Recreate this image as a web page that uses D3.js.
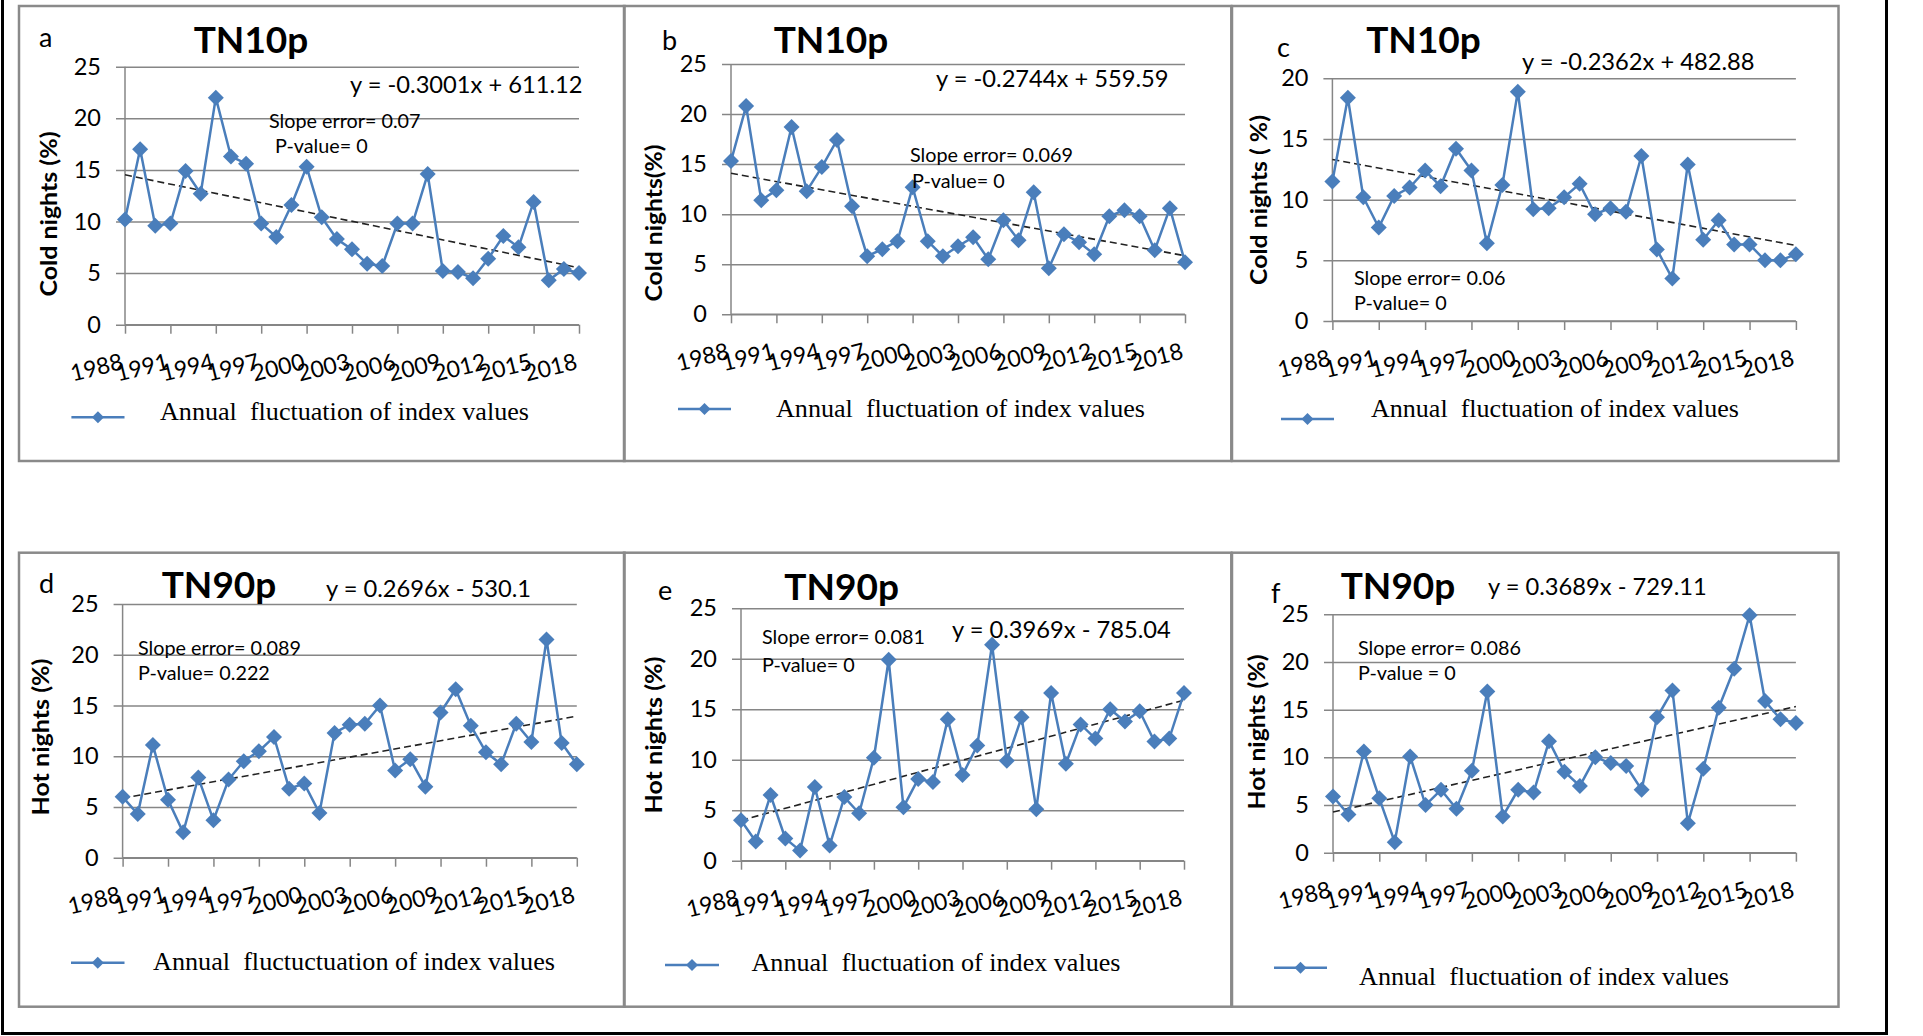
<!DOCTYPE html>
<html lang="en">
<head>
    <meta charset="UTF-8">
    <title>TN10p / TN90p</title>
    <script src="https://d3js.org/d3.v7.min.js"></script>
    <style>
        body { margin: 0; background: #fff; }
        svg { display: block; }
        .tick text { font-family: Lato, "Open Sans", sans-serif; fill: #000; }
        .lbl { font-family: Lato, "Open Sans", sans-serif; fill: #000; }
        .legend-text { font-family: "Liberation Serif", "Times New Roman", serif; fill: #000; }
    </style>
</head>
<body>
<svg id="chart"></svg>
<script>
// ---- data ----
const years = [1988, 1989, 1990, 1991, 1992, 1993, 1994, 1995, 1996, 1997, 1998, 1999, 2000, 2001, 2002, 2003,
               2004, 2005, 2006, 2007, 2008, 2009, 2010, 2011, 2012, 2013, 2014, 2015, 2016, 2017, 2018];
const tickYears = [1988, 1991, 1994, 1997, 2000, 2003, 2006, 2009, 2012, 2015, 2018];

const coldNightsA = [10.2, 17.0, 9.6, 9.8, 14.9, 12.7, 22.0, 16.3, 15.6, 9.8, 8.5, 11.6, 15.3, 10.4, 8.3, 7.3,
                     5.9, 5.7, 9.8, 9.8, 14.6, 5.2, 5.1, 4.5, 6.4, 8.6, 7.5, 11.9, 4.3, 5.4, 5.0];
const coldNightsB = [15.3, 20.8, 11.4, 12.4, 18.7, 12.3, 14.7, 17.4, 10.8, 5.8, 6.5, 7.3, 12.7, 7.3, 5.8, 6.8,
                     7.7, 5.5, 9.4, 7.4, 12.2, 4.6, 8.0, 7.2, 6.0, 9.8, 10.4, 9.8, 6.4, 10.6, 5.2];
const coldNightsC = [11.5, 18.4, 10.2, 7.7, 10.3, 11.0, 12.4, 11.1, 14.2, 12.4, 6.4, 11.2, 18.9, 9.2, 9.3, 10.2,
                     11.3, 8.8, 9.3, 9.0, 13.6, 5.9, 3.5, 12.9, 6.7, 8.3, 6.3, 6.3, 5.0, 5.0, 5.5];
const hotNightsD = [6.0, 4.3, 11.1, 5.7, 2.5, 7.9, 3.7, 7.7, 9.5, 10.5, 11.9, 6.8, 7.3, 4.4, 12.3, 13.1,
                    13.2, 15.0, 8.6, 9.7, 7.0, 14.3, 16.6, 13.0, 10.4, 9.2, 13.2, 11.4, 21.5, 11.3, 9.2];
const hotNightsE = [4.0, 1.9, 6.5, 2.2, 1.0, 7.3, 1.5, 6.3, 4.7, 10.2, 19.9, 5.3, 8.1, 7.8, 14.0, 8.5,
                    11.4, 21.4, 9.9, 14.2, 5.1, 16.6, 9.6, 13.5, 12.1, 15.0, 13.8, 14.8, 11.8, 12.1, 16.6];
const hotNightsF = [5.9, 4.0, 10.6, 5.7, 1.1, 10.1, 5.0, 6.6, 4.6, 8.6, 16.9, 3.8, 6.6, 6.3, 11.7, 8.5,
                    7.0, 10.0, 9.4, 9.1, 6.6, 14.2, 17.0, 3.1, 8.8, 15.2, 19.3, 24.9, 15.9, 14.0, 13.6];

// linear trend y = slope * year + intercept (from the equations printed on each panel)
const trendSlopes = [-0.3001, -0.2744, -0.2362, 0.2696, 0.3969, 0.3689];
const trendIntercepts = [611.12, 559.59, 482.88, -530.1, -785.04, -729.11];

const panelLetters = ["a", "b", "c", "d", "e", "f"];
const panelTitles = ["TN10p", "TN10p", "TN10p", "TN90p", "TN90p", "TN90p"];
const yLabels = ["Cold nights (%)", "Cold nights(%)", "Cold nights ( %)", "Hot nights (%)", "Hot nights (%)", "Hot nights (%)"];
const equations = ["y = -0.3001x + 611.12", "y = -0.2744x + 559.59", "y = -0.2362x + 482.88",
                   "y = 0.2696x - 530.1", "y = 0.3969x - 785.04", "y = 0.3689x - 729.11"];
const slopeErrors = ["Slope error= 0.07", "Slope error= 0.069", "Slope error= 0.06",
                     "Slope error= 0.089", "Slope error= 0.081", "Slope error= 0.086"];
const pValues = ["P-value= 0", "P-value= 0", "P-value= 0", "P-value= 0.222", "P-value= 0", "P-value = 0"];
const legendTexts = ["Annual  fluctuation of index values", "Annual  fluctuation of index values",
                     "Annual  fluctuation of index values", "Annual  fluctuctuation of index values",
                     "Annual  fluctuation of index values", "Annual  fluctuation of index values"];
const yMaxes = [25, 25, 20, 25, 25, 25];
const series = [coldNightsA, coldNightsB, coldNightsC, hotNightsD, hotNightsE, hotNightsF];

// ---- layout of each panel (pixels) ----
const layout = [
    { box: [19, 6, 624.5, 461], x: [125, 579], y: [324.7, 66.7], letter: [39, 47], title: [251, 52.7],
      ylab: [49, 214, 165], eq: [350, 93], se: [269, 128], pv: [275, 153],
      leg: [71.4, 124.5, 417.3], legText: [160, 420, 369] },
    { box: [624, 6, 1231.3, 461], x: [731, 1185], y: [314.3, 64], letter: [662, 50], title: [831, 52.7],
      ylab: [654, 223, 157], eq: [936, 86.7], se: [910, 161.7], pv: [912, 188],
      leg: [678, 731, 409], legText: [776, 417, 369] },
    { box: [1232, 6, 1838.5, 461], x: [1332.4, 1795.9], y: [321, 78.3], letter: [1277, 56.7], title: [1423.5, 52.7],
      ylab: [1259, 200, 170], eq: [1522, 70], se: [1354, 285], pv: [1354, 310],
      leg: [1281, 1334, 419], legText: [1371, 417, 368] },
    { box: [19, 552.7, 624.5, 1006.7], x: [122.6, 576.8], y: [857.7, 604], letter: [39, 593], title: [219, 598.3],
      ylab: [41, 737, 157], eq: [326, 596.7], se: [138, 655], pv: [138, 680],
      leg: [71, 124.5, 962.7], legText: [153, 970, 402] },
    { box: [624, 552.7, 1231.3, 1006.7], x: [741, 1184], y: [860.7, 608.3], letter: [658, 600], title: [841.6, 600],
      ylab: [654, 735, 157], eq: [952, 638], se: [762, 644], pv: [762, 671.7],
      leg: [665, 719, 965], legText: [751.5, 970.7, 369] },
    { box: [1232, 552.7, 1838.5, 1006.7], x: [1333, 1795.9], y: [852.7, 614.3], letter: [1271, 603], title: [1398, 599.3],
      ylab: [1256.6, 732, 155], eq: [1488, 595], se: [1358, 655], pv: [1358, 680],
      leg: [1274, 1327, 967.7], legText: [1359, 985, 370] }
];

const width = 1923, height = 1036;
const blue = "#4a7ebb", grid = "#868686";

const svg = d3.select("#chart").attr("width", width).attr("height", height);
svg.append("rect").attr("width", width).attr("height", height).attr("fill", "#fff");

// outer black frame (top edge lies off the picture)
svg.append("path")
    .attr("d", "M2.5,-5 L2.5,1033.5 L1886.5,1033.5 L1886.5,-5")
    .attr("fill", "none").attr("stroke", "#000").attr("stroke-width", 3);

const diamond = r => `M0,${-r}L${r},0L0,${r}L${-r},0Z`;

series.forEach(function(values, i) {
    const L = layout[i];
    const g = svg.append("g");

    // panel border
    g.append("rect")
        .attr("x", L.box[0]).attr("y", L.box[1])
        .attr("width", L.box[2] - L.box[0]).attr("height", L.box[3] - L.box[1])
        .attr("fill", "none").attr("stroke", "#8a8a8a").attr("stroke-width", 2.5);

    const x = d3.scaleLinear().domain([years[0], years[years.length - 1]]).range(L.x);
    const y = d3.scaleLinear().domain([0, yMaxes[i]]).range(L.y);
    const yTicks = d3.range(0, yMaxes[i] + 1, 5);

    // horizontal gridlines + y axis
    const yAxis = g.append("g")
        .attr("transform", `translate(${L.x[0]},0)`)
        .call(d3.axisLeft(y).tickValues(yTicks).tickSize(9).tickPadding(15));
    yAxis.select(".domain").remove();
    yAxis.selectAll(".tick line")
        .attr("x2", L.x[1] - L.x[0]).attr("x1", -9)
        .attr("stroke", grid).attr("stroke-width", 1.5);
    yAxis.selectAll(".tick text").style("font-size", "23.5px");
    g.append("line")
        .attr("x1", L.x[0]).attr("x2", L.x[0])
        .attr("y1", L.y[0]).attr("y2", y(yMaxes[i]))
        .attr("stroke", grid).attr("stroke-width", 1.5);

    // x axis
    const xAxis = g.append("g")
        .attr("transform", `translate(0,${L.y[0]})`)
        .call(d3.axisBottom(x).tickValues(tickYears).tickFormat(d3.format("d")).tickSize(9));
    xAxis.select(".domain").attr("stroke", grid).attr("stroke-width", 1.5)
        .attr("d", `M${L.x[0]},0H${L.x[1]}`);
    xAxis.selectAll(".tick line").attr("stroke", grid).attr("stroke-width", 1.5);
    xAxis.selectAll(".tick text")
        .style("font-size", "23px")
        .attr("y", 0).attr("dy", 0)
        .attr("text-anchor", "end")
        .attr("transform", "translate(-1,44) rotate(-14)");

    // trend line
    const trend = yr => trendSlopes[i] * yr + trendIntercepts[i];
    g.append("line")
        .attr("x1", x(years[0])).attr("y1", y(trend(years[0])))
        .attr("x2", x(years[years.length - 1])).attr("y2", y(trend(years[years.length - 1])))
        .attr("stroke", "#222").attr("stroke-width", 1.6).attr("stroke-dasharray", "7,4");

    // series line and markers
    const line = d3.line().x((d, j) => x(years[j])).y(d => y(d));
    g.append("path").datum(values)
        .attr("d", line)
        .attr("fill", "none").attr("stroke", blue).attr("stroke-width", 2.5);
    g.selectAll(".marker").data(values).enter().append("path")
        .attr("class", "marker")
        .attr("d", diamond(8))
        .attr("transform", (d, j) => `translate(${x(years[j])},${y(d)})`)
        .attr("fill", blue);

    // texts
    g.append("text").attr("class", "lbl")
        .attr("x", L.letter[0]).attr("y", L.letter[1])
        .style("font-size", "27px").text(panelLetters[i]);
    g.append("text").attr("class", "lbl")
        .attr("x", L.title[0]).attr("y", L.title[1])
        .attr("text-anchor", "middle")
        .style("font-size", "37px").style("font-weight", "bold")
        .text(panelTitles[i]);
    g.append("text").attr("class", "lbl")
        .attr("transform", `translate(${L.ylab[0] + 8},${L.ylab[1]}) rotate(-90)`)
        .attr("text-anchor", "middle")
        .attr("textLength", L.ylab[2]).attr("lengthAdjust", "spacingAndGlyphs")
        .style("font-size", "23px").style("font-weight", "bold")
        .text(yLabels[i]);
    g.append("text").attr("class", "lbl")
        .attr("x", L.eq[0]).attr("y", L.eq[1])
        .style("font-size", "23.7px").text(equations[i]);
    g.append("text").attr("class", "lbl")
        .attr("x", L.se[0]).attr("y", L.se[1])
        .style("font-size", "19.8px").text(slopeErrors[i]);
    g.append("text").attr("class", "lbl")
        .attr("x", L.pv[0]).attr("y", L.pv[1])
        .style("font-size", "19.8px").text(pValues[i]);

    // legend
    const lg = g.append("g");
    lg.append("line")
        .attr("x1", L.leg[0]).attr("x2", L.leg[1])
        .attr("y1", L.leg[2]).attr("y2", L.leg[2])
        .attr("stroke", blue).attr("stroke-width", 2.5);
    lg.append("path")
        .attr("d", diamond(6))
        .attr("transform", `translate(${(L.leg[0] + L.leg[1]) / 2},${L.leg[2]})`)
        .attr("fill", blue);
    lg.append("text").attr("class", "legend-text")
        .attr("x", L.legText[0]).attr("y", L.legText[1])
        .attr("textLength", L.legText[2]).attr("lengthAdjust", "spacingAndGlyphs")
        .attr("xml:space", "preserve")
        .style("font-size", "26px")
        .style("white-space", "pre")
        .text(legendTexts[i]);
});
</script>
</body>
</html>
